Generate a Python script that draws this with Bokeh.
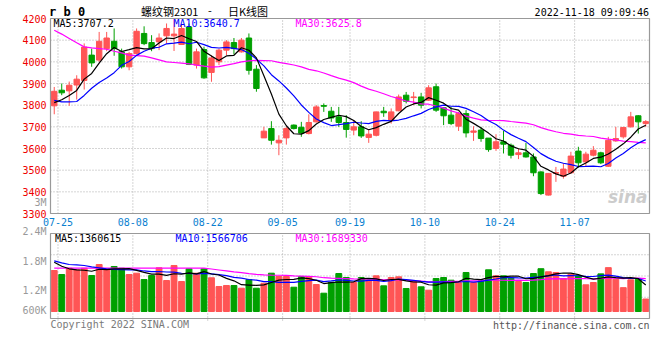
import pandas as pd
from bokeh.plotting import figure
from bokeh.models import Range1d, Label, ColumnDataSource
from bokeh.core.properties import value
from bokeh.embed import file_html
from bokeh.resources import INLINE

# ---------------- data ----------------
first_day = "2022-07-22"
last_day = "2022-11-18"
holidays = ["2022-09-12", "2022-10-03", "2022-10-04", "2022-10-05", "2022-10-06", "2022-10-07"]
date_tick_labels = ["07-25", "08-08", "08-22", "09-05", "09-19", "10-10", "10-24", "11-07"]

opens = [3797, 3869, 3866, 3893, 3914, 4031, 4008, 4061, 4095, 4046,
         3977, 4038, 4131, 4089, 4092, 4120, 4120, 4080, 4161, 3985,
         4057, 3951, 4000, 4054, 4089, 4046, 4110, 3966, 3649, 3692,
         3626, 3649, 3708, 3698, 3669, 3723, 3798, 3772, 3746, 3720,
         3685, 3700, 3651, 3661, 3772, 3731, 3774, 3846, 3835, 3838,
         3823, 3885, 3788, 3754, 3703, 3761, 3675, 3685, 3648, 3600,
         3631, 3615, 3572, 3580, 3561, 3492, 3385, 3485, 3472, 3488,
         3588, 3538, 3569, 3580, 3518, 3635, 3654, 3700, 3751, 3715]
highs = [3884, 3900, 3909, 3938, 4085, 4061, 4138, 4138, 4154, 4061,
         4046, 4154, 4164, 4123, 4131, 4177, 4198, 4172, 4177, 4061,
         4070, 4031, 4061, 4100, 4110, 4110, 4131, 3985, 3700, 3726,
         3661, 3700, 3711, 3723, 3758, 3800, 3808, 3792, 3792, 3754,
         3731, 3726, 3685, 3770, 3792, 3785, 3849, 3861, 3861, 3857,
         3892, 3900, 3790, 3792, 3769, 3777, 3703, 3700, 3648, 3666,
         3681, 3623, 3600, 3626, 3577, 3495, 3487, 3515, 3531, 3585,
         3608, 3585, 3611, 3585, 3654, 3700, 3700, 3769, 3754, 3731]
lows = [3758, 3846, 3797, 3826, 3872, 3977, 4000, 4049, 4028, 3969,
        3961, 4034, 4077, 4049, 4054, 4084, 4050, 4078, 3985, 3969,
        3922, 3908, 3985, 4031, 4034, 4043, 3941, 3862, 3649, 3618,
        3569, 3618, 3688, 3654, 3665, 3720, 3769, 3723, 3700, 3650,
        3661, 3649, 3626, 3656, 3746, 3715, 3772, 3808, 3800, 3785,
        3820, 3769, 3708, 3708, 3681, 3651, 3635, 3631, 3585, 3589,
        3577, 3554, 3551, 3558, 3472, 3385, 3383, 3446, 3461, 3484,
        3512, 3515, 3564, 3528, 3515, 3631, 3646, 3697, 3669, 3700]
closes = [3864, 3857, 3892, 3920, 4068, 3995, 4095, 4110, 4061, 3977,
          4038, 4141, 4084, 4061, 4110, 4154, 4128, 4154, 3988, 4046,
          3926, 4018, 4054, 4092, 4061, 4100, 3961, 3877, 3680, 3638,
          3638, 3692, 3692, 3671, 3720, 3792, 3795, 3741, 3720, 3688,
          3700, 3658, 3666, 3769, 3765, 3769, 3838, 3818, 3838, 3800,
          3880, 3777, 3751, 3715, 3761, 3672, 3681, 3646, 3595, 3631,
          3620, 3569, 3580, 3561, 3488, 3392, 3485, 3489, 3505, 3565,
          3534, 3574, 3592, 3534, 3638, 3646, 3697, 3746, 3723, 3724]
volumes = [2103000, 1898000, 2221000, 2139000, 2221000, 1847000, 2411000, 2139000, 2309000, 2221000,
           1898000, 1965000, 1642000, 1847000, 2242000, 1590000, 2360000, 1539000, 2191000, 1965000,
           2191000, 1729000, 1283000, 1334000, 1334000, 1195000, 1642000, 1195000, 1452000, 1965000,
           1796000, 1796000, 1247000, 1796000, 1796000, 1385000, 939000, 1503000, 1949000, 1744000,
           1488000, 1744000, 1575000, 1831000, 1318000, 1744000, 1780000, 1180000, 1539000, 1267000,
           1093000, 1693000, 1744000, 1606000, 1488000, 2001000, 1488000, 1575000, 2140000, 1831000,
           1831000, 1708000, 1539000, 1488000, 1949000, 2195000, 2037000, 2001000, 1693000, 1913000,
           1826000, 1370000, 1488000, 1930000, 2250000, 1657000, 1223000, 1626000, 1657000, 640000]

# moving-average values visible at the left edge (they depend on days before the window)
ma5_lead = [3812, 3825, 3845, 3868]
ma10_lead = [3822, 3815, 3815, 3817, 3845, 3878, 3905, 3925, 3950]
ma30_lead = [4146, 4128, 4108, 4088, 4069, 4064, 4061, 4058, 4049, 4041,
             4031, 4029, 4026, 4018, 4009, 4000, 3997, 3994, 3991, 3985,
             3980, 3976, 3978, 3985, 3992, 4000, 4004, 4007, 4006]
vma5_lead = [2529000, 2324000, 2191000, 2139000]
vma10_lead = [2601000, 2498000, 2411000, 2396000, 2360000, 2293000, 2242000, 2191000, 2155000]
vma30_lead = [2221000] * 21 + [2180000, 2130000, 2080000, 2030000, 1990000, 1940000, 1900000, 1880000]

price_ticks = [3300, 3400, 3500, 3600, 3700, 3800, 3900, 4000, 4100, 4200]
vol_axis_values = [3000000, 2400000, 1800000, 1200000, 600000]
vol_axis_labels = ["3M", "2.4M", "1.8M", "1.2M", "600K"]

ma_price_texts = ["MA5:3707.2", "MA10:3640.7", "MA30:3625.8"]
ma_vol_texts = ["MA5:1360615", "MA10:1566706", "MA30:1689330"]
title_code = "r b 0"
title_name = "螺纹钢2301"
title_kind = "日K线图"
timestamp = "2022-11-18 09:09:46"
copyright_text = "Copyright 2022 SINA.COM"
url_text = "http://finance.sina.com.cn"

# ---------------- derived ----------------
days = pd.bdate_range(first_day, last_day)
days = days[~days.isin(pd.to_datetime(holidays))]
day_labels = days.strftime("%m-%d").tolist()
n = len(closes)
tick_slots = [day_labels.index(t) for t in date_tick_labels]


def moving_avg(vals, k, lead):
    out = list(lead)
    for i in range(len(lead), len(vals)):
        out.append(sum(vals[i - k + 1:i + 1]) / k)
    return out


RED = "#ff5555"
GREEN = "#00a000"
xs = [i + 0.5 for i in range(n)]
colors = [RED if c >= o else GREEN for o, c in zip(opens, closes)]
src = ColumnDataSource(dict(
    x=xs, o=opens, h=highs, l=lows, c=closes,
    top=[max(o, c) for o, c in zip(opens, closes)],
    bottom=[min(o, c) for o, c in zip(opens, closes)],
    color=colors, vol=volumes,
    ma5=moving_avg(closes, 5, ma5_lead),
    ma10=moving_avg(closes, 10, ma10_lead),
    ma30=moving_avg(closes, 30, ma30_lead),
    vma5=moving_avg(volumes, 5, vma5_lead),
    vma10=moving_avg(volumes, 10, vma10_lead),
    vma30=moving_avg(volumes, 30, vma30_lead),
))

# ---------------- layout calibration (canvas pixels) ----------------
CW, CH = 652, 352
PX_LEFT, PX_RIGHT = 50, 649          # panel left / right edge
PX_PTOP, PX_PBOT = 18, 213           # price panel top (4200) / bottom (3300)
PX_VTOP, PX_VBOT = 233, 318          # volume panel top / bottom
PX_VZERO = 311                       # volume bars baseline
VOL_PER_PX = 51300

SLOT_PX = (PX_RIGHT - PX_LEFT) / n
PRICE_PER_PX = (price_ticks[-1] - price_ticks[0]) / (PX_PBOT - PX_PTOP)


def sx(px):
    return (px - PX_LEFT) / SLOT_PX


def sp(py):
    return price_ticks[-1] - (py - PX_PTOP) * PRICE_PER_PX


def sv(py):
    return (PX_VZERO - py) * VOL_PER_PX


MONO = "DejaVu Sans Mono"
GRID = "#aaaaaa"
BORDER = "#999999"

p = figure(width=CW, height=CH, x_range=Range1d(sx(0), sx(CW)), y_range=Range1d(sp(CH), sp(0)),
           output_backend="svg", toolbar_location=None, tools="",
           x_axis_location=None, y_axis_location=None,
           min_border_left=0, min_border_right=0, min_border_top=0, min_border_bottom=0)
p.extra_y_ranges = {"vol": Range1d(sv(CH), sv(0))}
p.background_fill_color = "white"
p.border_fill_color = "white"
p.outline_line_color = None
p.xgrid.visible = False
p.ygrid.visible = False

lo_p, hi_p = price_ticks[0], price_ticks[-1]
v_bot, v_top = sv(PX_VBOT), sv(PX_VTOP)

# grid lines
p.segment(x0=[0] * (len(price_ticks) - 2), x1=[n] * (len(price_ticks) - 2),
          y0=price_ticks[1:-1], y1=price_ticks[1:-1],
          line_color=GRID, line_dash="1 2", line_width=1)
p.segment(x0=tick_slots, x1=tick_slots, y0=[lo_p] * len(tick_slots), y1=[hi_p] * len(tick_slots),
          line_color=GRID, line_dash="1 2", line_width=1)
vq = [v_bot + (v_top - v_bot) * k / 4 for k in (1, 2, 3)]
p.segment(x0=[0] * 3, x1=[n] * 3, y0=vq, y1=vq, y_range_name="vol",
          line_color=GRID, line_dash="1 2", line_width=1)
p.segment(x0=tick_slots, x1=tick_slots, y0=[sv(PX_VBOT + 2)] * len(tick_slots),
          y1=[v_top] * len(tick_slots), y_range_name="vol",
          line_color=GRID, line_dash="1 2", line_width=1)

# candles
p.segment(x0="x", y0="h", x1="x", y1="l", line_color="color", line_width=1, source=src)
p.vbar(x="x", width=0.72, top="top", bottom="bottom", fill_color="color", line_color="color",
       line_width=1, source=src)
p.line("x", "ma30", line_color="#ff00ff", line_width=1.2, source=src)
p.line("x", "ma10", line_color="#0000ff", line_width=1.2, source=src)
p.line("x", "ma5", line_color="#000000", line_width=1.2, source=src)

# volume
p.vbar(x="x", width=0.78, top="vol", bottom=0, fill_color="color", line_color="color",
       line_width=1, source=src, y_range_name="vol")
p.line("x", "vma30", line_color="#ff00ff", line_width=1.2, source=src, y_range_name="vol")
p.line("x", "vma10", line_color="#0000ff", line_width=1.2, source=src, y_range_name="vol")
p.line("x", "vma5", line_color="#000000", line_width=1.2, source=src, y_range_name="vol")

# panel borders
p.quad(left=[0], right=[n], bottom=[lo_p], top=[hi_p], fill_color=None,
       line_color=BORDER, line_width=1.2)
p.quad(left=[0], right=[n], bottom=[v_bot], top=[v_top], fill_color=None,
       line_color=BORDER, line_width=1.2, y_range_name="vol")

# axis labels
p.text(x=[sx(46)] * len(price_ticks), y=price_ticks, text=[str(t) for t in price_ticks],
       text_align="right", text_baseline="middle", text_color="#ee0000",
       text_font=value(MONO), text_font_size="10px")
p.text(x=tick_slots, y=[sp(221.5)] * len(tick_slots), text=date_tick_labels,
       text_align="center", text_baseline="middle", text_color="#0a7fd0",
       text_font=value(MONO), text_font_size="10px")


def add_text(px, py, text, color="#000000", align="left", size="10px",
             font=MONO, style="normal"):
    p.add_layout(Label(x=sx(px), y=sp(py), text=text, text_color=color, text_align=align,
                       text_baseline="middle", text_font=font, text_font_size=size,
                       text_font_style=style))


# volume scale labels
for v, t in zip(vol_axis_values, vol_axis_labels):
    py = 231 + (vol_axis_values[1] - v) / 600000 * 29.5
    py = min(py, PX_VBOT - 8)
    add_text(46, py, t, color="#999999", align="right")

add_text(48.5, 11.5, title_code, size="12px", style="bold")
add_text(140.5, 10, title_name, size="11px", font="Noto Sans CJK SC")
add_text(209.5, 10, "-", size="11px", font="Noto Sans CJK SC", align="center")
add_text(227.5, 10, title_kind, size="11px", font="Noto Sans CJK SC")
add_text(648.5, 11.5, timestamp, align="right")

ma_cols = ["#000000", "#0000ff", "#ff00ff"]
for t, c, x in zip(ma_price_texts, ma_cols, [53, 173, 295]):
    add_text(x, 23.2, t, color=c)
for t, c, x in zip(ma_vol_texts, ma_cols, [54.5, 175, 295]):
    add_text(x, 238, t, color=c)

add_text(647, 196, "sina", color="#cccccc", align="right", size="17px",
         font="DejaVu Sans", style="bold italic")
add_text(50, 324, copyright_text, color="#7a7a7a")
add_text(649, 325, url_text, color="#555555", align="right")

open("out.html", "w").write(file_html(p, INLINE))
